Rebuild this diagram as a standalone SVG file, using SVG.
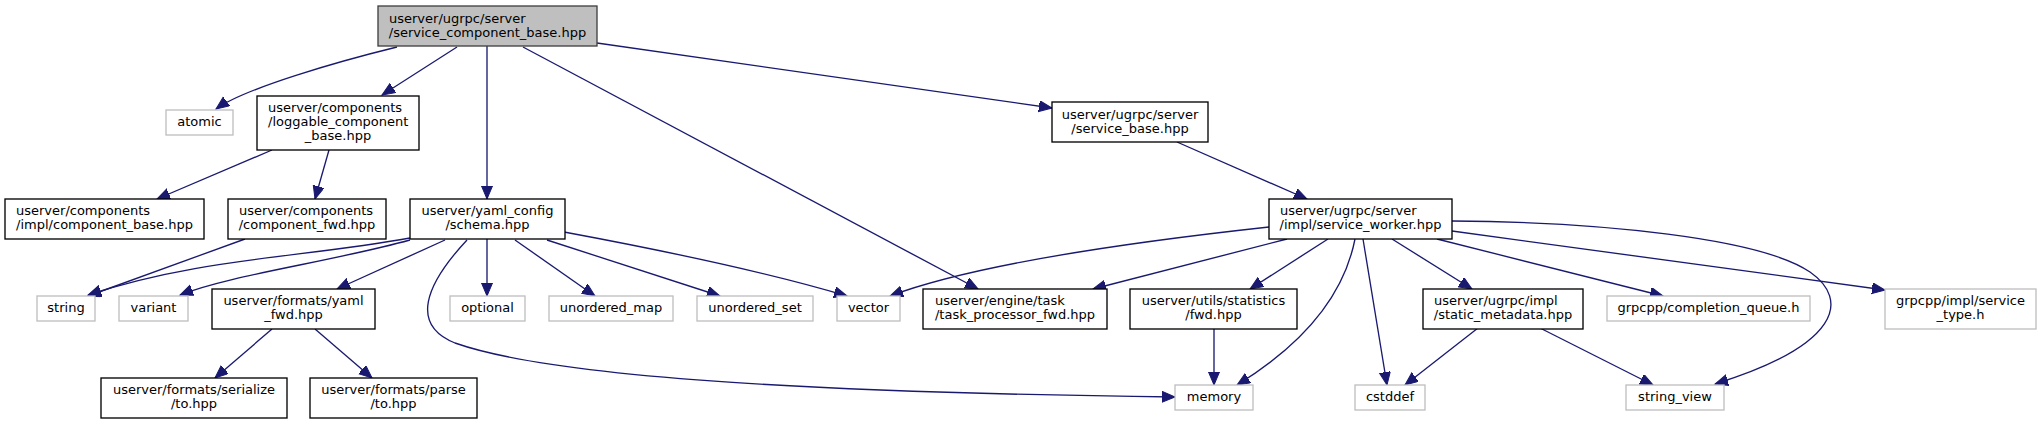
<svg xmlns="http://www.w3.org/2000/svg" width="2041" height="424" viewBox="0 0 2041 424">
<style>
text{font-family:"DejaVu Sans","Liberation Sans",sans-serif;font-size:13px;fill:#000}
.c{text-anchor:middle}
.s{text-anchor:start}
.nm rect{fill:#fff;stroke:#000;stroke-width:1.33}
.ex rect{fill:#fff;stroke:#bfbfbf;stroke-width:1.33}
.mn rect{fill:#bfbfbf;stroke:#404040;stroke-width:1.33}
#edges path{fill:none;stroke:#191970;stroke-width:1.33;marker-end:url(#arr)}
</style>
<defs>
<marker id="arr" markerUnits="userSpaceOnUse" markerWidth="15" markerHeight="13" refX="13" refY="5.5" orient="auto">
<path d="M0,0 L13,5.5 L0,11 Z" fill="#191970" stroke="#191970" stroke-width="1"/>
</marker>
</defs>
<rect width="2041" height="424" fill="#fff"/>
<g id="edges">
<path d="M397,47 C340,61 245,88 216,109"/>
<path d="M457,47 L382,95"/>
<path d="M487,46 L487,199"/>
<path d="M523,47 L978,289"/>
<path d="M597,43 L1052,108"/>
<path d="M272,150 L157,199"/>
<path d="M329,150 L315,199"/>
<path d="M1177,142 L1307,199"/>
<path d="M245,239 L88,296"/>
<path d="M410,238 C300,258 200,258 88,295"/>
<path d="M410,240 C330,262 230,275 180,295"/>
<path d="M445,240 L337,289"/>
<path d="M467,240 C425,285 410,325 455,343 C560,380 850,393 1175,397"/>
<path d="M487,239 L487,296"/>
<path d="M515,240 L595,296"/>
<path d="M547,240 L720,296"/>
<path d="M564,232 C650,248 760,270 847,296"/>
<path d="M1269,227 C1150,240 980,262 890,296"/>
<path d="M1287,239 L1093,289"/>
<path d="M1328,239 L1250,289"/>
<path d="M1355,239 C1345,290 1310,340 1237,385"/>
<path d="M1363,239 L1387,385"/>
<path d="M1392,239 L1472,289"/>
<path d="M1437,239 L1663,296"/>
<path d="M1452,231 L1885,290"/>
<path d="M1452,221 C1600,222 1760,238 1810,272 C1850,300 1840,345 1715,384"/>
<path d="M1478,328 L1405,385"/>
<path d="M1540,328 L1653,385"/>
<path d="M272,329 L215,378"/>
<path d="M315,329 L372,378"/>
<path d="M1214,329 L1214,385"/>
</g>
<g id="n_main" class="mn"><rect x="378" y="6" width="219" height="40"/><text class="s" x="389" y="22.5">userver/ugrpc/server</text><text class="c" x="487.5" y="36.5">/service_component_base.hpp</text></g>
<g id="n_atomic" class="ex"><rect x="166" y="110" width="67" height="25"/><text class="c" x="199.5" y="126">atomic</text></g>
<g id="n_loggable" class="nm"><rect x="257" y="96" width="162" height="54"/><text class="s" x="268" y="111.5">userver/components</text><text class="s" x="268" y="125.5">/loggable_component</text><text class="c" x="338" y="139.5">_base.hpp</text></g>
<g id="n_service_base" class="nm"><rect x="1052" y="102" width="156" height="40"/><text class="c" x="1130" y="118.5">userver/ugrpc/server</text><text class="c" x="1130" y="132.5">/service_base.hpp</text></g>
<g id="n_component_base" class="nm"><rect x="5" y="199" width="199" height="40"/><text class="s" x="16" y="215.3">userver/components</text><text class="c" x="104.5" y="229.3">/impl/component_base.hpp</text></g>
<g id="n_component_fwd" class="nm"><rect x="228" y="199" width="158" height="40"/><text class="s" x="239" y="215.3">userver/components</text><text class="c" x="307" y="229.3">/component_fwd.hpp</text></g>
<g id="n_schema" class="nm"><rect x="410" y="199" width="155" height="40"/><text class="c" x="487.5" y="215.3">userver/yaml_config</text><text class="c" x="487.5" y="229.3">/schema.hpp</text></g>
<g id="n_service_worker" class="nm"><rect x="1269" y="199" width="183" height="40"/><text class="s" x="1280" y="215.3">userver/ugrpc/server</text><text class="c" x="1360.5" y="229.3">/impl/service_worker.hpp</text></g>
<g id="n_string" class="ex"><rect x="37" y="296" width="58" height="25"/><text class="c" x="66" y="312">string</text></g>
<g id="n_variant" class="ex"><rect x="119" y="296" width="69" height="25"/><text class="c" x="153.5" y="312">variant</text></g>
<g id="n_yaml_fwd" class="nm"><rect x="212" y="289" width="163" height="40"/><text class="c" x="293.5" y="305.3">userver/formats/yaml</text><text class="c" x="293.5" y="319.3">_fwd.hpp</text></g>
<g id="n_optional" class="ex"><rect x="450" y="296" width="75" height="25"/><text class="c" x="487.5" y="312">optional</text></g>
<g id="n_unordered_map" class="ex"><rect x="549" y="296" width="124" height="25"/><text class="c" x="611" y="312">unordered_map</text></g>
<g id="n_unordered_set" class="ex"><rect x="697" y="296" width="116" height="25"/><text class="c" x="755" y="312">unordered_set</text></g>
<g id="n_vector" class="ex"><rect x="837" y="296" width="63" height="25"/><text class="c" x="868.5" y="312">vector</text></g>
<g id="n_task_processor_fwd" class="nm"><rect x="923" y="289" width="184" height="40"/><text class="s" x="935" y="305.3">userver/engine/task</text><text class="c" x="1015" y="319.3">/task_processor_fwd.hpp</text></g>
<g id="n_statistics_fwd" class="nm"><rect x="1130" y="289" width="167" height="40"/><text class="c" x="1213.5" y="305.3">userver/utils/statistics</text><text class="c" x="1213.5" y="319.3">/fwd.hpp</text></g>
<g id="n_static_metadata" class="nm"><rect x="1423" y="289" width="160" height="40"/><text class="s" x="1434" y="305.3">userver/ugrpc/impl</text><text class="c" x="1503" y="319.3">/static_metadata.hpp</text></g>
<g id="n_completion_queue" class="ex"><rect x="1607" y="296" width="203" height="25"/><text class="c" x="1708.5" y="312">grpcpp/completion_queue.h</text></g>
<g id="n_service_type" class="ex"><rect x="1885" y="289" width="151" height="40"/><text class="c" x="1960.5" y="305.3">grpcpp/impl/service</text><text class="c" x="1960.5" y="319.3">_type.h</text></g>
<g id="n_serialize_to" class="nm"><rect x="101" y="378" width="186" height="40"/><text class="c" x="194" y="394.3">userver/formats/serialize</text><text class="c" x="194" y="408.3">/to.hpp</text></g>
<g id="n_parse_to" class="nm"><rect x="310" y="378" width="167" height="40"/><text class="c" x="393.5" y="394.3">userver/formats/parse</text><text class="c" x="393.5" y="408.3">/to.hpp</text></g>
<g id="n_memory" class="ex"><rect x="1175" y="385" width="78" height="25"/><text class="c" x="1214" y="401">memory</text></g>
<g id="n_cstddef" class="ex"><rect x="1355" y="385" width="70" height="25"/><text class="c" x="1390" y="401">cstddef</text></g>
<g id="n_string_view" class="ex"><rect x="1626" y="385" width="98" height="25"/><text class="c" x="1675" y="401">string_view</text></g>
</svg>
